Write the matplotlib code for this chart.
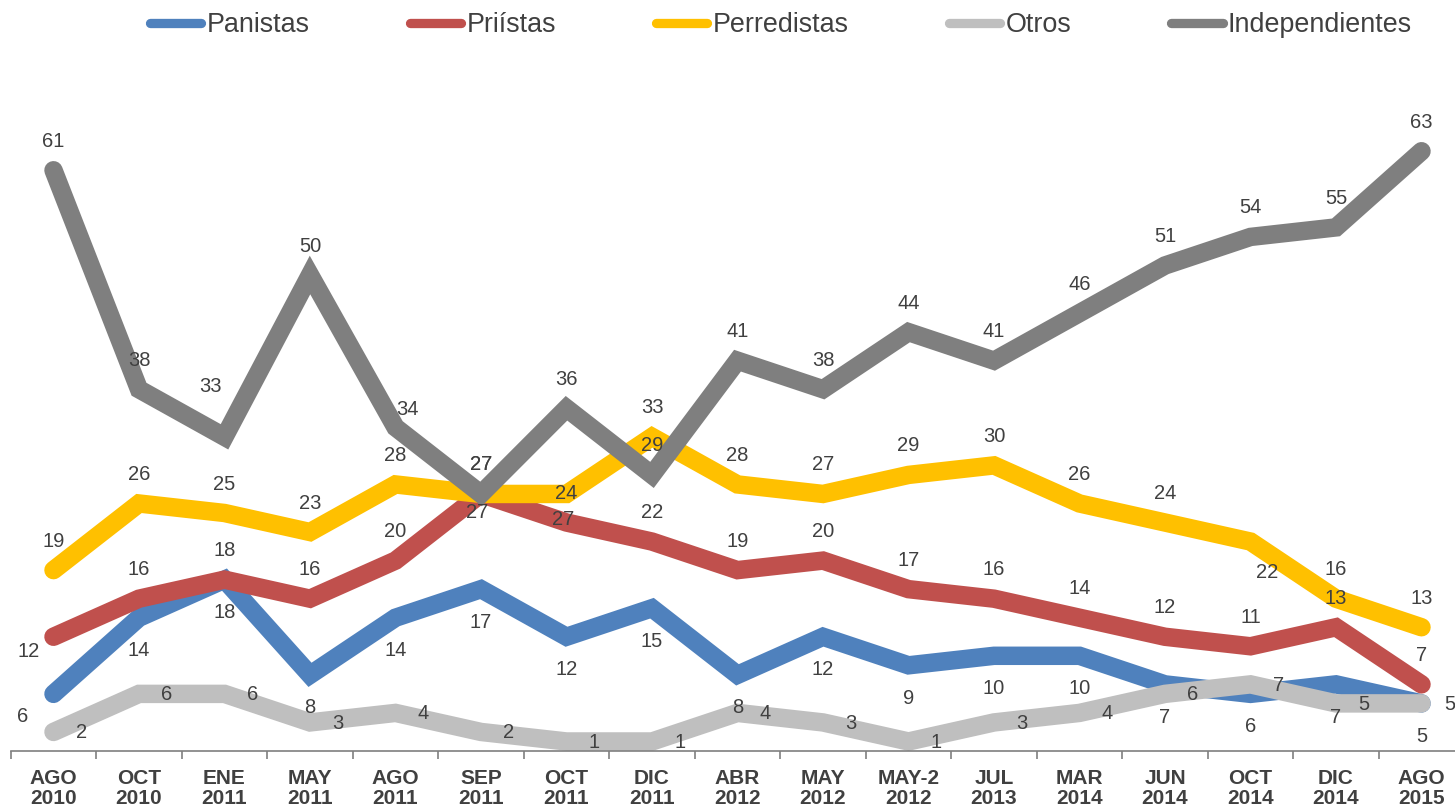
import matplotlib
matplotlib.use("Agg")
import matplotlib.pyplot as plt
from matplotlib.lines import Line2D
from matplotlib.ticker import FixedLocator

plt.rcParams['font.family'] = ['Liberation Sans', 'DejaVu Sans']

categories = ["AGO\n2010", "OCT\n2010", "ENE\n2011", "MAY\n2011", "AGO\n2011", "SEP\n2011",
              "OCT\n2011", "DIC\n2011", "ABR\n2012", "MAY\n2012", "MAY-2\n2012", "JUL\n2013",
              "MAR\n2014", "JUN\n2014", "OCT\n2014", "DIC\n2014", "AGO\n2015"]

panistas = [6, 14, 18, 8, 14, 17, 12, 15, 8, 12, 9, 10, 10, 7, 6, 7, 5]
priistas = [12, 16, 18, 16, 20, 27, 24, 22, 19, 20, 17, 16, 14, 12, 11, 13, 7]
perredistas = [19, 26, 25, 23, 28, 27, 27, 33, 28, 27, 29, 30, 26, 24, 22, 16, 13]
otros = [2, 6, 6, 3, 4, 2, 1, 1, 4, 3, 1, 3, 4, 6, 7, 5, 5]
independientes = [61, 38, 33, 50, 34, 27, 36, 29, 41, 38, 44, 41, 46, 51, 54, 55, 63]

series_names = ["Panistas", "Priístas", "Perredistas", "Otros", "Independientes"]

# styles
colors = {"Panistas": "#4F81BD", "Priístas": "#C0504D", "Perredistas": "#FFC000",
          "Otros": "#BFBFBF", "Independientes": "#7F7F7F"}
series_data = {"Panistas": panistas, "Priístas": priistas, "Perredistas": perredistas,
               "Otros": otros, "Independientes": independientes}
# label offsets in pixels (default per series, with a few exceptions)
default_off = {"Panistas": (0, -33), "Priístas": (0, 29), "Perredistas": (0, 29),
               "Otros": (28, -1), "Independientes": (0, 29)}
special_off = {("Panistas", 0): (-31, -23),
               ("Priístas", 0): (-25, -15),
               ("Priístas", 5): (-4, -19),
               ("Perredistas", 6): (-3, -26),
               ("Perredistas", 14): (17, -31),
               ("Independientes", 2): (-14, 50),
               ("Independientes", 4): (12, 18)}

W, H = 1455, 810
fig = plt.figure(figsize=(W / 100, H / 100), dpi=100)
left_px, right_px = 10.75, 1464.25
bottom_px = 810 - 751
ymax = 70
top_px = 810 - (751 - ymax * 9.52)
ax = fig.add_axes([left_px / W, bottom_px / H, (right_px - left_px) / W, (top_px - bottom_px) / H])

x = list(range(len(categories)))
draw_order = ["Panistas", "Priístas", "Perredistas", "Otros", "Independientes"]
lw = 13.3
for name in draw_order:
    ax.plot(x, series_data[name], color=colors[name], lw=lw, solid_capstyle='round',
            solid_joinstyle='miter', zorder=2)

text_color = "#404040"
for name in draw_order:
    for i, v in enumerate(series_data[name]):
        off = special_off.get((name, i), default_off[name])
        ax.annotate(str(v), (i, v), xytext=off, textcoords='offset pixels',
                    ha='center', va='center', fontsize=14.5, color=text_color,
                    annotation_clip=False, zorder=5)

ax.set_xlim(-0.5, len(categories) - 0.5)
ax.set_ylim(0, ymax)
for s in ["top", "right", "left"]:
    ax.spines[s].set_visible(False)
ax.spines["bottom"].set_color("#7F7F7F")
ax.spines["bottom"].set_linewidth(1.2)
ax.spines["bottom"].set_zorder(3)
ax.set_yticks([])
ax.set_xticks(x)
ax.set_xticklabels(categories, fontsize=15, fontweight='bold', color=text_color,
                   linespacing=1.05)
ax.tick_params(axis='x', which='major', length=0, pad=13)
ax.xaxis.set_minor_locator(FixedLocator([i - 0.5 for i in range(len(categories) + 1)]))
ax.tick_params(axis='x', which='minor', length=6, width=1.2, color="#7F7F7F", direction='out')

handles = [Line2D([0], [0], color=colors[n], lw=6.7, solid_capstyle='round') for n in series_names]
fig.legend(handles, series_names, loc='center', bbox_to_anchor=(781 / W, 1 - 25 / H),
           ncol=5, frameon=False, fontsize=19.4, handlelength=1.9, handletextpad=0.2,
           columnspacing=3.72, labelcolor=text_color, borderaxespad=0, borderpad=0)

fig.savefig("out.png", dpi=100)
